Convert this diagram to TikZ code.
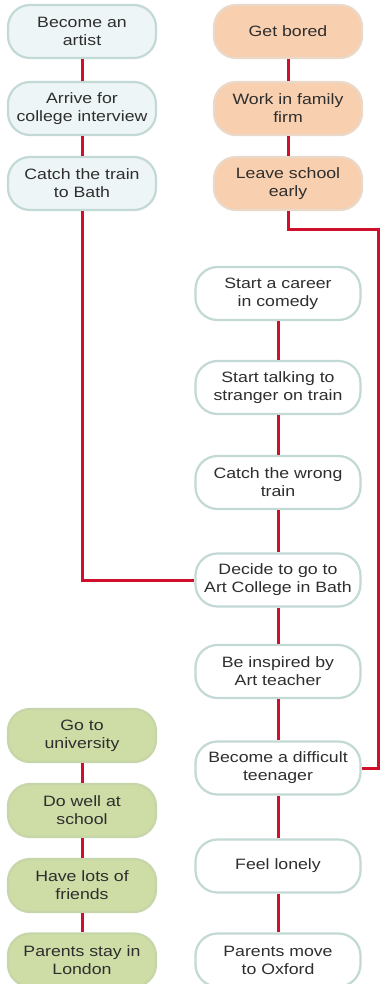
\documentclass[tikz,border=0pt]{standalone}
\usepackage{fontspec}
\setmainfont[FakeStretch=1.18]{Liberation Sans}
\usepackage{tikz}

\definecolor{pathred}{HTML}{D0102A}
\definecolor{rimgrey}{HTML}{C3D9D5}
\definecolor{bluefill}{HTML}{EEF5F6}
\definecolor{orangefill}{HTML}{F8CFAF}
\definecolor{orangerim}{HTML}{EAD9C8}
\definecolor{greenfill}{HTML}{CEDCA6}
\definecolor{greenrim}{HTML}{C6D6A8}
\definecolor{inktext}{HTML}{2E2E2E}

\begin{document}
\begin{tikzpicture}[x=1pt,y=-1pt,
  lifebox/.style={draw=rimgrey,line width=2.2pt,rounded corners=22pt,
    minimum width=148pt,minimum height=53pt,align=center,inner sep=0pt,
    text=inktext,font=\fontsize{15}{18}\selectfont},
  bluebox/.style={lifebox,fill=bluefill},
  orangebox/.style={lifebox,fill=orangefill,draw=orangerim},
  whitebox/.style={lifebox,fill=white,minimum width=165pt},
  greenbox/.style={lifebox,fill=greenfill,draw=greenrim},
  redline/.style={draw=pathred,line width=3pt}]
  % page, y runs downwards in pixels
  \clip (0,0) rectangle (381,984);
  \fill[white] (0,0) rectangle (381,984);
  \def\xL{82}\def\xO{288}\def\xW{278}
  % left column
  \node[bluebox] (artist) at (\xL,31.5) {Become an\\artist};
  \node[bluebox] (interview) at (\xL,108.5) {Arrive for\\college interview};
  \node[bluebox] (trainbath) at (\xL,183.5) {Catch the train\\to Bath};
  % orange column
  \node[orangebox] (bored) at (\xO,31.5) {Get bored};
  \node[orangebox] (firm) at (\xO,108.5) {Work in family\\firm};
  \node[orangebox] (early) at (\xO,183.5) {Leave school\\early};
  % middle column
  \node[whitebox] (comedy) at (\xW,293.5) {Start a career\\in comedy};
  \node[whitebox] (stranger) at (\xW,387.5) {Start talking to\\stranger on train};
  \node[whitebox] (wrongtrain) at (\xW,482.5) {Catch the wrong\\train};
  \node[whitebox] (decide) at (\xW,580) {Decide to go to\\Art College in Bath};
  \node[whitebox] (inspired) at (\xW,671.5) {Be inspired by\\Art teacher};
  \node[whitebox] (difficult) at (\xW,768) {Become a difficult\\teenager};
  \node[whitebox] (lonely) at (\xW,866) {Feel lonely};
  \node[whitebox] (oxford) at (\xW,960) {Parents move\\to Oxford};
  % green column
  \node[greenbox] (university) at (\xL,735.5) {Go to\\university};
  \node[greenbox] (wellschool) at (\xL,810.5) {Do well at\\school};
  \node[greenbox] (friends) at (\xL,885.5) {Have lots of\\friends};
  \node[greenbox] (london) at (\xL,960) {Parents stay in\\London};
  % links in each column
  \foreach \a/\b in {artist/interview,interview/trainbath,bored/firm,firm/early,
      comedy/stranger,stranger/wrongtrain,wrongtrain/decide,decide/inspired,
      inspired/difficult,difficult/lonely,lonely/oxford,
      university/wellschool,wellschool/friends,friends/london}
    \draw[redline] (\a) -- (\b);
  % long routes
  \coordinate (bend) at (378,230);
  \draw[redline] (trainbath.south) |- (decide.west);
  \draw[redline] (early.south) |- (bend) |- (difficult.east);
\end{tikzpicture}
\end{document}
